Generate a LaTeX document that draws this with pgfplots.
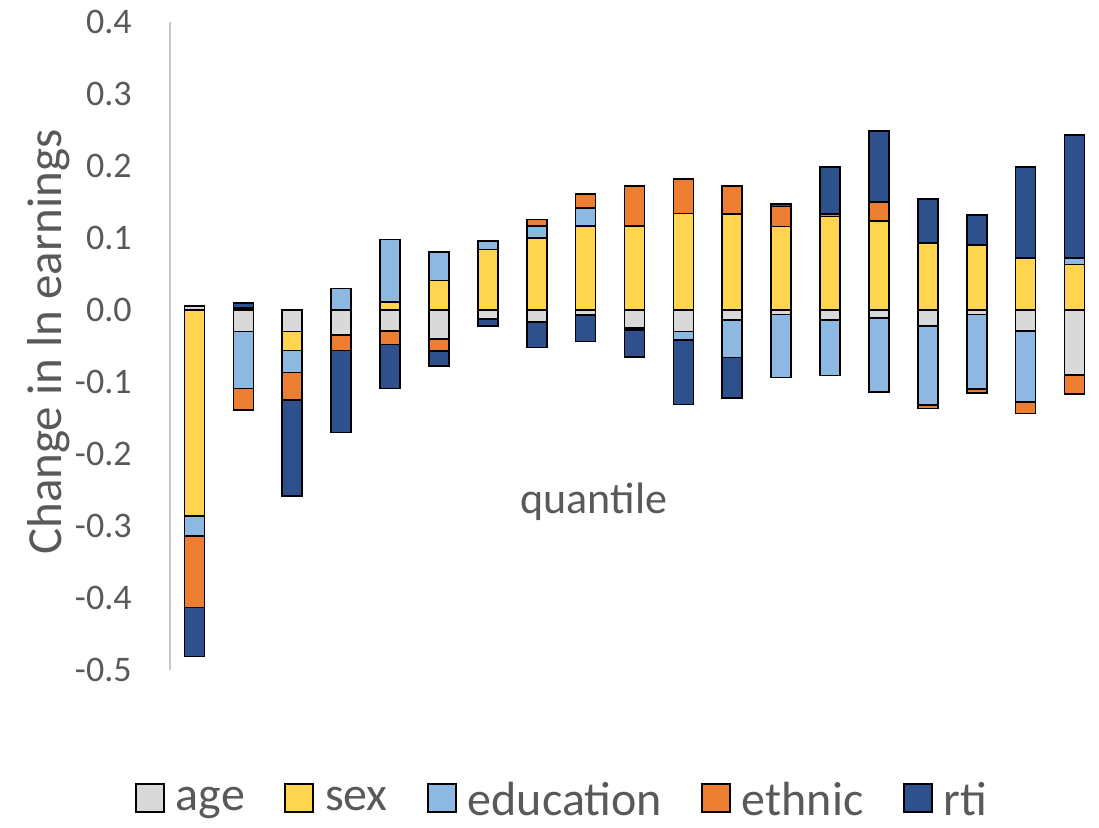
\documentclass[border=0pt]{standalone}
\usepackage{fontspec}
\setmainfont{Carlito}
\usepackage{pgfplots}
\usepackage{pgfplotstable}
\pgfplotsset{compat=1.18}

\definecolor{cage}{HTML}{D9D9D9}
\definecolor{csex}{HTML}{FFD44F}
\definecolor{cedu}{HTML}{8DB8E2}
\definecolor{ceth}{HTML}{ED7D31}
\definecolor{crti}{HTML}{2E508C}
\definecolor{txt}{HTML}{595959}
\definecolor{axline}{HTML}{C8C8C8}

% positive parts of each component (Excel stacks them above zero)
\pgfplotstableread{
q age sex edu eth rti
1 0.006 0 0 0 0
2 0 0.003 0 0 0.007
3 0 0 0 0 0
4 0 0 0.030 0 0
5 0 0.011 0.087 0 0
6 0 0.041 0.040 0 0
7 0 0.084 0.012 0 0
8 0 0.100 0.017 0.009 0
9 0 0.117 0.025 0.019 0
10 0 0.117 0 0.055 0
11 0 0.134 0 0.048 0
12 0 0.133 0 0.039 0
13 0 0.116 0 0.028 0.003
14 0 0.130 0 0.003 0.066
15 0 0.124 0 0.026 0.099
16 0 0.093 0 0 0.061
17 0 0.090 0 0 0.042
18 0 0.072 0 0 0.127
19 0 0.063 0.009 0 0.171
}\pos

% negative parts (stacked below zero)
\pgfplotstableread{
q age sex edu eth rti
1 0 -0.286 -0.028 -0.099 -0.068
2 -0.030 0 -0.079 -0.030 0
3 -0.030 -0.026 -0.031 -0.038 -0.133
4 -0.035 0 0 -0.021 -0.114
5 -0.029 0 0 -0.019 -0.061
6 -0.040 0 0 -0.017 -0.021
7 -0.012 0 0 -0.001 -0.009
8 -0.017 0 0 0 -0.035
9 -0.007 0 0 0 -0.037
10 -0.025 0 -0.003 0 -0.037
11 -0.030 0 -0.012 0 -0.089
12 -0.014 0 -0.052 0 -0.056
13 -0.006 0 -0.088 0 0
14 -0.014 0 -0.077 0 0
15 -0.011 0 -0.103 0 0
16 -0.022 0 -0.110 -0.005 0
17 -0.006 0 -0.104 -0.005 0
18 -0.029 0 -0.099 -0.016 0
19 -0.090 0 0 -0.027 0
}\neg

\pgfplotsset{
  common/.style={
    at={(0,0)}, anchor=south west,
    scale only axis, width=464.5pt, height=324pt,
    xmin=0.5, xmax=19.5, ymin=-0.5, ymax=0.4,
    ybar stacked, bar width=10pt,
    xtick=\empty,
  },
  seg/.style={draw=black, line width=0.8pt, fill=#1},
}

\begin{document}
\begin{tikzpicture}
\useasboundingbox (-85pt,-78.5pt) rectangle (464.5pt,335pt);

\begin{axis}[common,
  axis x line=none, axis y line*=left,
  y axis line style={axline, line width=0.75pt},
  major tick length=0pt,
  ytick={-0.5,-0.4,-0.3,-0.2,-0.1,0,0.1,0.2,0.3,0.4},
  yticklabels={-0.5,-0.4,-0.3,-0.2,-0.1,0.0,0.1,0.2,0.3,0.4},
  yticklabel style={font=\fontsize{18pt}{20pt}\selectfont, text=txt, anchor=east, inner sep=0pt, xshift=-19pt},
  ylabel={Change in ln earnings},
  ylabel style={at={(axis description cs:-0.1076,0.506)}, anchor=south, inner sep=0pt,
    font=\fontsize{24.5pt}{26pt}\selectfont, text=txt},
  legend image code/.code={\draw[#1, line width=0.8pt] (0pt,-6pt) rectangle (14pt,8pt);},
  legend style={at={(0.421,-0.2355)}, anchor=south, draw=none, fill=none,
    legend columns=-1, font=\fontsize{24pt}{26pt}\selectfont,
    nodes={inner sep=0pt, text=txt},
    /tikz/every odd column/.append style={column sep=5.5pt},
    /tikz/every even column/.append style={column sep=19.75pt}},
]
\addplot[seg=cage] table[x=q, y=age] {\pos};
\addplot[seg=csex] table[x=q, y=sex] {\pos};
\addplot[seg=cedu] table[x=q, y=edu] {\pos};
\addplot[seg=ceth] table[x=q, y=eth] {\pos};
\addplot[seg=crti] table[x=q, y=rti] {\pos};
\legend{age, sex, education, ethnic, rti}
\node[font=\fontsize{22pt}{24pt}\selectfont, text=txt, anchor=base] at (axis cs:9.17,-0.282) {quantile};
\end{axis}

\begin{axis}[common, hide axis]
\addplot[seg=cage] table[x=q, y=age] {\neg};
\addplot[seg=csex] table[x=q, y=sex] {\neg};
\addplot[seg=cedu] table[x=q, y=edu] {\neg};
\addplot[seg=ceth] table[x=q, y=eth] {\neg};
\addplot[seg=crti] table[x=q, y=rti] {\neg};
\end{axis}
\end{tikzpicture}
\end{document}
